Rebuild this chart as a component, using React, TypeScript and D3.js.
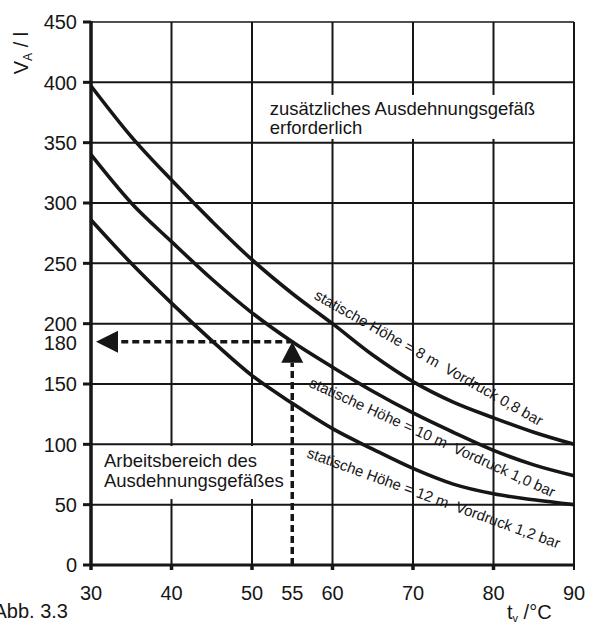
import React from "react";
import * as d3 from "d3";

// ---- data ----
const temps = [30, 35, 40, 45, 50, 55, 60, 65, 70, 75, 80, 85, 90];
const curve8m = [397, 355, 319, 285, 253, 225, 200, 174, 152, 135, 122, 110, 100];
const curve10m = [340, 300, 268, 237, 209, 185, 164, 144, 126, 110, 95, 83, 74];
const curve12m = [286, 250, 217, 186, 157, 134, 113, 96, 80, 67, 59, 54, 50];

const xTicks = [30, 40, 50, 55, 60, 70, 80, 90];
const xGrid = [40, 50, 60, 70, 80, 90];
const yTicks = [0, 50, 100, 150, 200, 250, 300, 350, 400, 450];
const yGrid = [50, 100, 150, 200, 250, 300, 350, 400];

const readTemp = 55;
const readVolume = 180;
const readVolumeDrawn = 185;

const curveLabels = [
  { text: "statische Höhe = 8 m  Vordruck 0,8 bar", x: 57.6, y: 221, angle: 29.5 },
  { text: "statische Höhe = 10 m  Vordruck 1,0 bar", x: 57.0, y: 148, angle: 24.5 },
  { text: "statische Höhe = 12 m  Vordruck 1,2 bar", x: 56.7, y: 89.5, angle: 20 },
];

const regionTop = { lines: ["zusätzliches Ausdehnungsgefäß", "erforderlich"], x: 52.2, y: 373 };
const regionBottom = { lines: ["Arbeitsbereich des", "Ausdehnungsgefäßes"], x: 31.6, y: 81.2 };

const FONT = "'Liberation Sans', Arial, Helvetica, sans-serif";
const INK = "#161616";

export default function App() {
  const x = d3.scaleLinear().domain([30, 90]).range([91, 574]);
  const y = d3.scaleLinear().domain([0, 450]).range([565, 22]);

  const line = d3
    .line<number>()
    .x((_, i) => x(temps[i]))
    .y((v) => y(v))
    .curve(d3.curveMonotoneX);

  const ax = x(readTemp);
  const ay = y(readVolumeDrawn);
  const head = 11;
  const headLen = 21;

  const lineH = 19;
  const tickFont = 20;

  return (
    <svg
      width={590}
      height={624}
      style={{ position: "absolute", left: 0, top: 0, background: "#fff" }}
      fontFamily={FONT}
    >
      {/* grid */}
      {yGrid.map((v) => (
        <line key={"hy" + v} x1={x(30)} x2={x(90)} y1={y(v)} y2={y(v)} stroke={INK} strokeWidth={2} />
      ))}
      <line x1={x(30)} x2={x(90)} y1={y(450)} y2={y(450)} stroke={INK} strokeWidth={1.4} />
      {xGrid.map((v) => (
        <line key={"vx" + v} x1={x(v)} x2={x(v)} y1={y(450)} y2={y(0) + (v === 90 ? 5 : 0)} stroke={INK} strokeWidth={2} />
      ))}

      {/* white boxes behind region texts */}
      <rect x={265} y={y(regionTop.y) - 20} width={282} height={44} fill="#fff" />
      <rect x={100} y={y(regionBottom.y) - 21} width={188} height={53} fill="#fff" />

      {/* axes */}
      <line x1={x(30)} x2={x(30)} y1={y(450) - 1} y2={y(0) + 5} stroke={INK} strokeWidth={3.5} />
      <line x1={x(30)} x2={x(90)} y1={y(0)} y2={y(0)} stroke={INK} strokeWidth={3} />
      {yTicks.map((v) => (
        <line key={"ty" + v} x1={x(30) - 8} x2={x(30)} y1={y(v)} y2={y(v)} stroke={INK} strokeWidth={3} />
      ))}
      {xGrid.slice(0, 5).map((v) => (
        <line key={"tx" + v} x1={x(v)} x2={x(v)} y1={y(0)} y2={y(0) + 5} stroke={INK} strokeWidth={3.5} />
      ))}

      {/* curves */}
      {[curve8m, curve10m, curve12m].map((c, i) => (
        <path key={"c" + i} d={line(c) || ""} fill="none" stroke={INK} strokeWidth={3.6} strokeLinejoin="round" />
      ))}

      {/* reading example: dashed arrows */}
      <line x1={ax} x2={ax} y1={y(0)} y2={ay + headLen} stroke={INK} strokeWidth={3.5} strokeDasharray="7,4" />
      <polygon points={`${ax},${ay} ${ax - head},${ay + headLen} ${ax + head},${ay + headLen}`} fill={INK} />
      <line x1={ax + 1} x2={x(30) + 27} y1={ay} y2={ay} stroke={INK} strokeWidth={3.5} strokeDasharray="7,4" />
      <polygon
        points={`${x(30) + 5},${ay} ${x(30) + 27},${ay - head} ${x(30) + 27},${ay + head}`}
        fill={INK}
      />

      {/* curve labels */}
      {curveLabels.map((l, i) => (
        <text
          key={"cl" + i}
          transform={`translate(${x(l.x)},${y(l.y)}) rotate(${l.angle})`}
          fontSize={15}
          fill={INK}
          style={{ whiteSpace: "pre" }}
        >
          {l.text}
        </text>
      ))}

      {/* region texts */}
      <text fontSize={18.5} fill={INK}>
        {regionTop.lines.map((t, i) => (
          <tspan key={i} x={x(regionTop.x)} y={y(regionTop.y) + i * lineH}>
            {t}
          </tspan>
        ))}
      </text>
      <text fontSize={18.5} fill={INK}>
        {regionBottom.lines.map((t, i) => (
          <tspan key={i} x={x(regionBottom.x)} y={y(regionBottom.y) + i * (lineH + 1)}>
            {t}
          </tspan>
        ))}
      </text>

      {/* y tick labels */}
      {yTicks.map((v) => (
        <text key={"ly" + v} x={77} y={y(v)} dy="0.36em" textAnchor="end" fontSize={tickFont} fill={INK}>
          {v}
        </text>
      ))}
      <text x={77} y={ay + 1} dy="0.36em" textAnchor="end" fontSize={tickFont} fill={INK}>
        {readVolume}
      </text>

      {/* x tick labels */}
      {xTicks.map((v) => (
        <text key={"lx" + v} x={x(v)} y={600} textAnchor="middle" fontSize={tickFont} fill={INK}>
          {v}
        </text>
      ))}

      {/* axis titles */}
      <text x={507} y={619} fontSize={tickFont} fill={INK}>
        t<tspan fontSize={11} dy={3}>v</tspan>
        <tspan dy={-3}> /°C</tspan>
      </text>
      <text transform="translate(28,53) rotate(-90)" textAnchor="middle" fontSize={tickFont} fill={INK}>
        V<tspan fontSize={12} dy={4}>A</tspan>
        <tspan dy={-4}> / l</tspan>
      </text>
      <text x={68} y={618} textAnchor="end" fontSize={tickFont} fill={INK}>
        Abb. 3.3
      </text>
    </svg>
  );
}
